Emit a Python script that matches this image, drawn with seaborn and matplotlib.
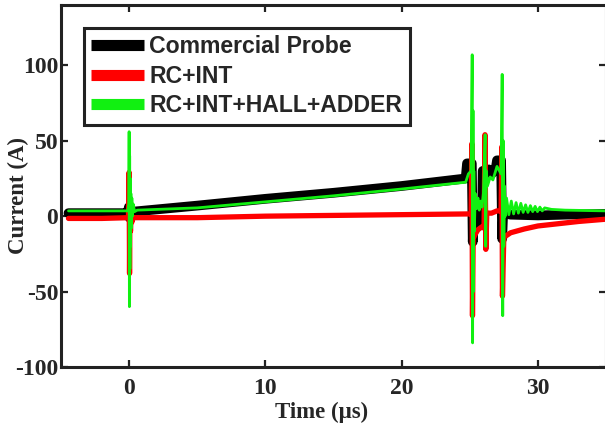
import numpy as np
import pandas as pd
import matplotlib
matplotlib.use("Agg")
import matplotlib.pyplot as plt
from matplotlib.font_manager import FontProperties
import seaborn as sns

# ---------------- data ----------------
t_probe = [-4.45, -2.0, -0.1, -0.02, 0.03, 0.12, 0.3, 5.0, 10.0, 15.0, 20.0, 24.7,
           24.8, 25.15, 25.22, 25.3, 25.85, 25.9, 25.95, 26.4, 26.6, 26.9, 27.0,
           27.3, 27.38, 27.45, 28.0, 30.0, 32.0, 35.0]
i_probe = [2.0, 2.0, 2.0, 6.0, -1.0, 4.0, 3.0, 7.0, 11.5, 15.5, 20.0, 25.0,
           35.0, 35.0, -17.0, 4.0, 4.0, -5.0, 30.0, 31.0, 28.0, 31.0, 37.0,
           37.0, -15.0, 2.0, 1.0, 0.5, 1.0, 1.5]

t_rc = [-4.45, -2.0, -0.05, 0.0, 0.03, 0.06, 0.1, 0.15, 0.2, 0.3, 5.0, 10.0, 15.0,
        20.0, 25.1, 25.16, 25.2, 25.25, 25.4, 25.6, 25.9, 26.05, 26.12, 26.18,
        26.25, 26.6, 27.0, 27.3, 27.36, 27.4, 27.5, 28.0, 29.0, 30.0, 31.0, 32.0,
        33.0, 35.0]
i_rc = [-1.5, -1.5, -1.0, 29.0, -38.0, 12.0, -10.0, 3.0, -4.0, -1.0, -1.0, 0.0, 0.5,
        1.0, 1.5, 48.0, -66.0, -15.0, -12.0, -9.0, -7.0, -8.0, 54.0, -22.0,
        2.0, 2.0, 3.5, 3.5, 46.0, -53.0, -14.0, -11.0, -8.5, -6.5, -5.5, -4.5,
        -3.5, -2.0]

t_hall = [-4.45, -2.0, -0.1, -0.02, 0.0, 0.02, 0.04, 0.06, 0.08, 0.1, 0.13, 0.16,
          0.2, 0.25, 0.3, 0.4, 0.6, 5.0, 10.0, 15.0, 20.0, 24.7, 24.9, 25.1,
          25.18, 25.21, 25.24, 25.27, 25.3, 25.34, 25.4, 25.5, 25.6, 25.7, 25.8,
          25.9, 26.0, 26.13, 26.17, 26.22, 26.3, 26.5, 26.7, 26.9, 27.0, 27.3,
          27.38, 27.42, 27.46, 27.5, 27.55, 27.6, 27.7, 27.87, 28.05, 28.22,
          28.4, 28.57, 28.75, 28.92, 29.1, 29.27, 29.45, 29.62, 29.8, 29.97,
          30.15, 30.32, 30.5, 31.0, 32.0, 35.0]
i_hall = [3.5, 3.5, 3.5, 8.0, 56.0, -60.0, 40.0, -35.0, 25.0, -20.0, 15.0, -8.0,
          12.0, 0.0, 8.0, 3.0, 4.0, 5.5, 9.5, 13.5, 18.0, 22.5, 28.0, 30.0,
          107.0, -84.0, 70.0, -50.0, 30.0, -10.0, 15.0, 5.0, 12.0, 4.0, 10.0,
          6.0, 15.0, 54.0, -20.0, 30.0, 20.0, 26.0, 24.0, 30.0, 33.0, 28.0,
          94.0, -66.0, 50.0, -20.0, 20.0, 0.0, 12.0, 1.0, 10.0, 1.5, 9.0,
          2.0, 8.5, 2.5, 7.5, 2.5, 7.0, 3.0, 6.5, 3.0, 6.0, 3.5, 5.5, 4.5,
          4.0, 3.5]

labels = ["Commercial Probe", "RC+INT", "RC+INT+HALL+ADDER"]
colors = ["#000000", "#ff0000", "#11f011"]
x_ticks = [0, 10, 20, 30]
y_ticks = [-100, -50, 0, 50, 100]

# ---------------- style ----------------
sns.set_style("ticks")
plt.rcParams["font.family"] = ["Liberation Serif", "DejaVu Serif"]
plt.rcParams["font.weight"] = "bold"
plt.rcParams["lines.solid_joinstyle"] = "round"

fig = plt.figure(figsize=(6.05, 4.28), dpi=100)
ax = fig.add_axes([61 / 605, (428 - 367) / 428, (606 - 61) / 605, (367 - 5) / 428])

df_probe = pd.DataFrame({"t": t_probe, "i": i_probe})
df_rc = pd.DataFrame({"t": t_rc, "i": i_rc})
df_hall = pd.DataFrame({"t": t_hall, "i": i_hall})

sns.lineplot(data=df_probe, x="t", y="i", ax=ax, color=colors[0], linewidth=7,
             sort=False, estimator=None, label=labels[0])
sns.lineplot(data=df_rc, x="t", y="i", ax=ax, color=colors[1], linewidth=3.8,
             sort=False, estimator=None, label=labels[1])
sns.lineplot(data=df_hall, x="t", y="i", ax=ax, color=colors[2], linewidth=2.0,
             sort=False, estimator=None, label=labels[2])

ax.set_xlim(-5, 35)
ax.set_ylim(-100, 140)
ax.set_xticks(x_ticks)
ax.set_yticks(y_ticks)
ax.set_xticklabels([str(v) for v in x_ticks], fontsize=17, fontweight="bold")
ax.set_yticklabels([str(v) for v in y_ticks], fontsize=17, fontweight="bold")

for s in ax.spines.values():
    s.set_visible(True)
    s.set_linewidth(2.2)
    s.set_color("#222222")

ax.tick_params(axis="both", direction="in", length=5, width=1.6, color="#222222",
               top=True, right=True)
ax.tick_params(axis="x", pad=8)
ax.tick_params(axis="y", pad=2)

ax.set_xlabel("Time (\u03bcs)", fontsize=16.5, fontweight="bold")
ax.set_ylabel("Current (A)", fontsize=16.5, fontweight="bold")
ax.xaxis.set_label_coords((321.5 - 61) / 545, (367 - 412) / 362)
ax.yaxis.set_label_coords((18 - 61) / 545, (367 - 195) / 362)
ax.xaxis.label.set_va("center")
ax.yaxis.label.set_va("center")

leg = ax.legend(loc="upper left", bbox_to_anchor=((84 - 61) / 545, (367 - 28) / 362),
                borderaxespad=0, prop=FontProperties(family="Liberation Sans",
                                                     weight="bold", size=16.6),
                handlelength=2.3, handletextpad=0.22, borderpad=0.32,
                labelspacing=0.28, fancybox=False, framealpha=1,
                edgecolor="#222222")
leg.get_frame().set_linewidth(2.2)
for ln in leg.get_lines():
    ln.set_linewidth(8)
    ln.set_solid_capstyle("butt")

fig.savefig("out.png", dpi=100)
